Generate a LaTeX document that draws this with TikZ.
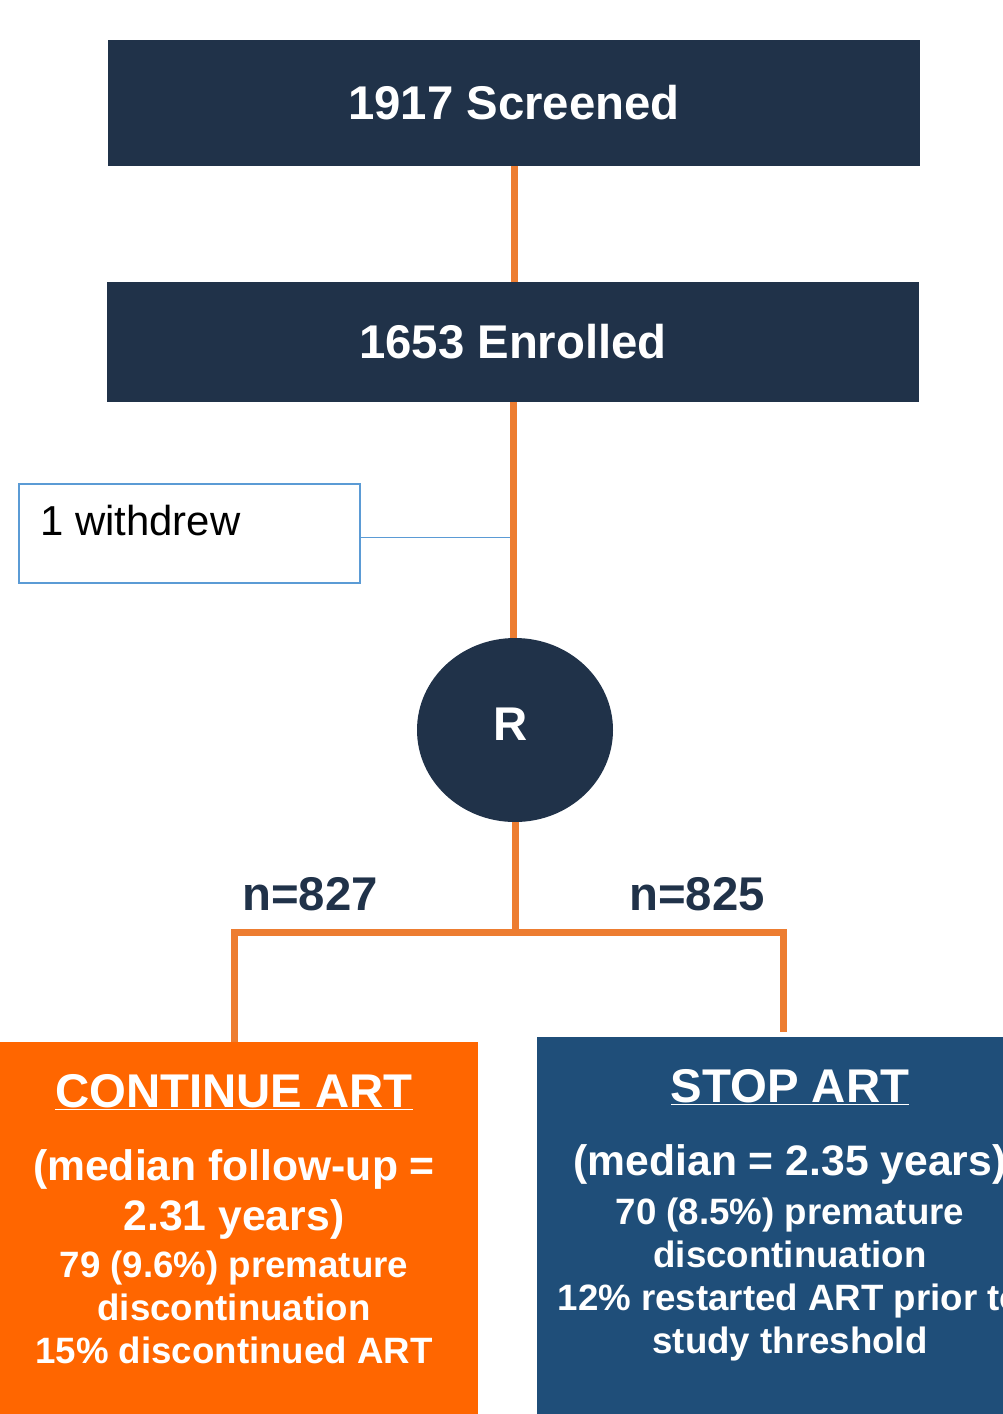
\documentclass[tikz,border=0pt]{standalone}
\usepackage{fontspec}
\setmainfont{Liberation Sans}
\usetikzlibrary{shapes.geometric,positioning}

\definecolor{navy}{HTML}{203249}
\definecolor{flowline}{HTML}{ED7D31}
\definecolor{armorange}{HTML}{FF6600}
\definecolor{armblue}{HTML}{1F4E79}
\definecolor{boxline}{HTML}{5B9BD5}

\newcommand{\bigfont}{\fontsize{35.5}{42}\bfseries\selectfont}
\newcommand{\midfont}{\fontsize{32}{37.5}\bfseries\selectfont}
\newcommand{\smallfont}{\fontsize{27.5}{32.2}\bfseries\selectfont}

\begin{document}
\begin{tikzpicture}[x=0.75pt,y=-0.75pt,
    flow/.style={draw=flowline,line width=5.25pt},
    stage/.style={rectangle,fill=navy,text=white,font=\bigfont,
      minimum width=609pt,inner sep=0pt},
    armbox/.style={rectangle,inner sep=0pt},
    armtext/.style={anchor=base,text=white,align=center,inner sep=0pt},
    count/.style={anchor=base,text=navy,font=\bigfont,inner sep=0pt}]
  \useasboundingbox (0,0) rectangle (1003,1414);
  \clip (0,0) rectangle (1003,1414);

  % stages
  \node (screened) [stage,minimum height=94.5pt] at (514,103) {1917 Screened};
  \node (enrolled) [stage,minimum height=90pt] at (513,342) {1653 Enrolled};
  \node (rand) [ellipse,fill=navy,minimum width=147pt,minimum height=138pt,
    inner sep=0pt] at (515,730) {};
  \node (randlabel) [anchor=base,text=white,font=\bigfont,inner sep=0pt] at (511,740) {R};

  % withdrawal
  \node (withdrawn) [rectangle,draw=boxline,line width=1.1pt,
    minimum width=255.75pt,minimum height=74.25pt] at (189.5,533.5) {};
  \node (withdrewtext) [anchor=base west,inner sep=0pt,
    font=\fontsize{31.4}{36}\selectfont] at (40,535) {1 withdrew};
  \draw[boxline,line width=0.75pt] ([yshift=-3.2pt]withdrawn.east)
    -- ([yshift=-3.2pt]withdrawn.east -| enrolled.south);

  % arms
  \node (continue) [armbox,fill=armorange,minimum width=366pt,minimum height=286.5pt] at (234,1233) {};
  \node (stop) [armbox,fill=armblue,minimum width=379.5pt,minimum height=290.25pt] at (790,1230.5) {};
  \coordinate (split) at (515,932);
  \coordinate (stopend) at (783,1032);

  \draw[flow] (screened.south) -- (screened.south |- enrolled.north);
  \draw[flow] (enrolled.south) -- (enrolled.south |- rand.north);
  \draw[flow] (rand.south) -- (split);
  \draw[flow,line join=miter] (continue.north) |- (split) -| (stopend);

  \node (n827) [count] at (310,910) {n=827};
  \node (n825) [count] at (697,910) {n=825};

  % continue ART text
  \node (conttitle) [armtext,font=\bigfont] at (234,1107) {\underline{CONTINUE ART}};
  \node (contmedian) [armtext,font=\midfont] at (234,1230) {(median follow-up =\\2.31 years)};
  \node (contdetail) [armtext,font=\smallfont] at (234,1363)
    {79 (9.6\%) premature\\discontinuation\\15\% discontinued ART};

  % stop ART text
  \node (stoptitle) [armtext,font=\bigfont] at (790,1102) {\underline{STOP ART}};
  \node (stopmedian) [armtext,font=\midfont] at (790,1175) {(median = 2.35 years)};
  \node (stopdetail) [armtext,font=\smallfont] at (790,1353)
    {70 (8.5\%) premature\\discontinuation\\12\% restarted ART prior to\\study threshold};
\end{tikzpicture}
\end{document}
